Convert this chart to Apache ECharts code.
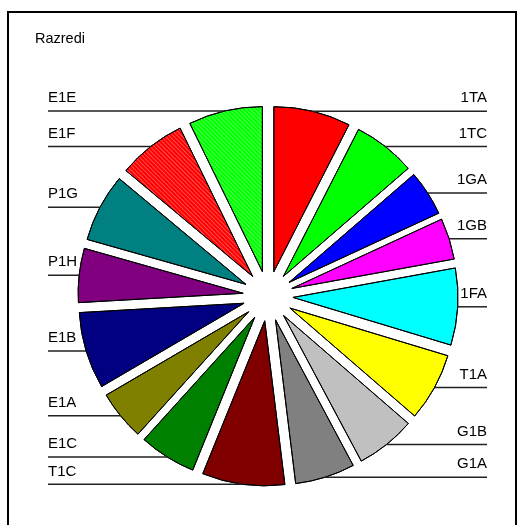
<!DOCTYPE html>
<html>
<head>
<meta charset="utf-8">
<script src="https://cdn.jsdelivr.net/npm/echarts@6/dist/echarts.min.js"></script>
<style>
  html, body {margin: 0; padding: 0; background: #fff;}
  #chart {width: 525px; height: 525px;}
</style>
</head>
<body>
<div id="chart"></div>
<script>
// classes, clockwise from 12 o'clock
const classes = ['1TA', '1TC', '1GA', '1GB', '1FA', 'T1A', 'G1B', 'G1A',
  'T1C', 'E1C', 'E1A', 'E1B', 'P1H', 'P1G', 'E1F', 'E1E'];
const counts = [27, 22, 16, 14.5, 27, 24, 21, 21, 29, 20, 17.5, 27, 19, 24, 24, 26];
const colors = ['#ff0000', '#00ff00', '#0000ff', '#ff00ff', '#00ffff', '#ffff00', '#c0c0c0', '#808080',
  '#800000', '#008000', '#808000', '#000080', '#800080', '#008080', '#ff0000', '#00ff00'];
const hatched = ['E1F', 'E1E'];

const cx = 268, cy = 296, r = 165, offset = 25;
const leftX = 48, rightX = 487;

const chart = echarts.init(document.getElementById('chart'));

const hatch = {
  symbol: 'rect',
  symbolSize: 1,
  dashArrayX: [1, 0],
  dashArrayY: [1, 2],
  rotation: Math.PI / 4,
  color: 'rgba(255,255,255,0.3)'
};

const slices = classes.map((name, i) => ({
  name,
  value: counts[i],
  selected: true,
  itemStyle: {
    color: colors[i],
    decal: hatched.includes(name) ? hatch : {symbol: 'none'}
  }
}));

chart.setOption({
  animation: false,
  aria: {decal: {show: true}},
  title: {
    text: 'Razredi',
    left: 30,
    top: 26,
    textStyle: {fontFamily: 'Liberation Sans, Arial', fontSize: 14.5, fontWeight: 'normal', color: '#000'}
  },
  graphic: [{
    type: 'rect',
    shape: {x: 8, y: 12, width: 508, height: 530},
    style: {fill: 'none', stroke: '#000', lineWidth: 2},
    silent: true
  }],
  series: [
    {
      type: 'pie',
      center: [cx, cy],
      radius: [0, r],
      startAngle: 90,
      clockwise: true,
      selectedMode: 'multiple',
      selectedOffset: offset,
      silent: true,
      label: {show: false},
      labelLine: {show: false},
      itemStyle: {borderColor: '#000', borderWidth: 1},
      select: {itemStyle: {borderColor: '#000', borderWidth: 1}},
      emphasis: {disabled: true},
      data: slices
    },
    {
      // transparent ring at the exploded radius, only used to carry labels
      type: 'pie',
      center: [cx, cy],
      radius: [0, r + offset],
      startAngle: 90,
      clockwise: true,
      silent: true,
      z: 3,
      avoidLabelOverlap: false,
      itemStyle: {color: 'rgba(0,0,0,0)', borderWidth: 0, decal: {symbol: 'none'}},
      emphasis: {disabled: true},
      label: {
        show: true,
        position: 'outside',
        fontFamily: 'Liberation Sans, Arial',
        fontSize: 15,
        color: '#000'
      },
      labelLine: {
        show: true,
        length: 0,
        length2: 10,
        lineStyle: {color: '#222', width: 1.5}
      },
      labelLayout(params) {
        const p = params.labelLinePoints;
        if (!p) return {};
        const isLeft = p[2][0] < p[0][0];
        const y = p[0][1];
        const edge = isLeft ? leftX : rightX;
        return {
          x: edge,
          y: y - 13,
          align: isLeft ? 'left' : 'right',
          verticalAlign: 'middle',
          labelLinePoints: [p[0], [p[0][0], y], [edge, y]]
        };
      },
      data: classes.map((name, i) => ({name, value: counts[i]}))
    }
  ]
});
</script>
</body>
</html>
